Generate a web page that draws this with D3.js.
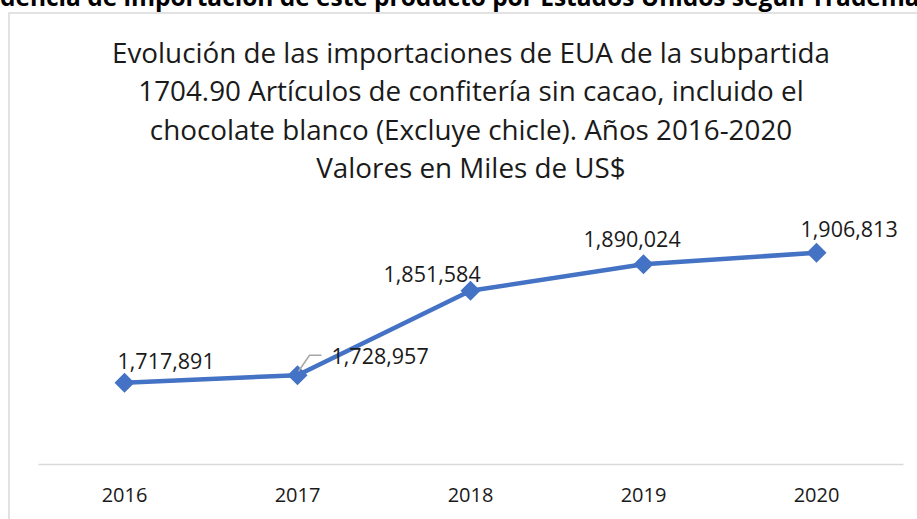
<!DOCTYPE html>
<html>
<head>
<meta charset="utf-8">
<script src="https://cdn.jsdelivr.net/npm/d3@7"></script>
<style>
  body { margin: 0; background: #fff; }
  svg { display: block; }
</style>
</head>
<body>
<div id="chart"></div>
<script>
// Data
var years  = ['2016', '2017', '2018', '2019', '2020'];
var values = [1717891, 1728957, 1851584, 1890024, 1906813];
var yTicks = [1600000, 1950000];

var pageTitle = 'Tendencia de importación de este producto por Estados Unidos según Trademap';
var titleLines = [
    'Evolución de las importaciones de EUA de la subpartida',
    '1704.90 Artículos de confitería sin cacao, incluido el',
    'chocolate blanco (Excluye chicle). Años 2016-2020',
    'Valores en Miles de US$'
];

var width  = 917;
var height = 519;

var svg = d3.select('#chart').append('svg')
    .attr('width', width)
    .attr('height', height);

// Cut off heading of the page above the chart
var head = svg.append('text')
    .attr('y', 6)
    .attr('font-family', 'Open Sans, sans-serif')
    .attr('font-weight', 'bold')
    .attr('font-size', 20)
    .attr('fill', '#000')
    .text(pageTitle);
// scale so that "dencia ... Tradem" spans the window like in the picture
var probe = svg.append('text')
    .attr('font-family', 'Open Sans, sans-serif')
    .attr('font-weight', 'bold')
    .attr('font-size', 20);
var wPre = probe.text('Ten').node().getComputedTextLength();
var wMid = probe.text('dencia de importación de este producto por Estados Unidos según Tradem').node().getComputedTextLength();
var k = 905 / wMid;
head.attr('font-size', 20 * k).attr('x', -wPre * k);
probe.remove();

// Chart frame
svg.append('rect')
    .attr('x', 9)
    .attr('y', 13)
    .attr('width', 924)
    .attr('height', 520)
    .attr('fill', '#fff')
    .attr('stroke', '#d9d9d9')
    .attr('stroke-width', 1.5);

// Chart title
var titleY = [63, 101, 140, 178];
svg.append('g')
    .selectAll('text')
    .data(titleLines)
    .enter()
    .append('text')
    .attr('x', 471)
    .attr('y', (d, i) => titleY[i])
    .attr('text-anchor', 'middle')
    .attr('font-family', 'Open Sans, sans-serif')
    .attr('font-size', 27.8)
    .attr('fill', '#1a1a1a')
    .text(d => d);

// Scales
var x = d3.scaleBand()
    .domain(years)
    .range([38, 903]);

var y = d3.scaleLinear()
    .domain(d3.extent(yTicks))
    .range([464, 223]);

var cx = d => x(d) + x.bandwidth() / 2;

// Category axis
var xAxis = svg.append('g')
    .attr('transform', 'translate(0,' + y(yTicks[0]) + ')')
    .call(d3.axisBottom(x).tickSize(0).tickPadding(24));
xAxis.select('.domain')
    .attr('stroke', '#d9d9d9')
    .attr('stroke-width', 1.5);
xAxis.selectAll('text')
    .attr('font-family', 'Open Sans, sans-serif')
    .attr('font-size', 20)
    .attr('fill', '#1a1a1a');

// Line
var line = d3.line()
    .x((d, i) => cx(years[i]))
    .y(d => y(d));

svg.append('path')
    .datum(values)
    .attr('fill', 'none')
    .attr('stroke', '#4472c4')
    .attr('stroke-width', 4.5)
    .attr('stroke-linejoin', 'round')
    .attr('d', line);

// Diamond markers
svg.append('g')
    .selectAll('path')
    .data(values)
    .enter()
    .append('path')
    .attr('transform', (d, i) => 'translate(' + cx(years[i]) + ',' + y(d) + ') rotate(45)')
    .attr('d', d3.symbol(d3.symbolSquare, 200))
    .attr('fill', '#4472c4');

// Data labels (hand-placed in the original)
var labelOffset = [[-7, -14], [34, -11], [-87, -9], [-60, -17], [-16, -16]];
var fmt = d3.format(',');

// leader line for 2017
var p17 = [cx(years[1]), y(values[1])];
svg.append('path')
    .attr('d', d3.line()([[p17[0] + 1, p17[1] - 4], [p17[0] + 12, p17[1] - 20], [p17[0] + 24, p17[1] - 20]]))
    .attr('fill', 'none')
    .attr('stroke', '#a6a6a6')
    .attr('stroke-width', 1.5);

svg.append('g')
    .selectAll('text')
    .data(values)
    .enter()
    .append('text')
    .attr('x', (d, i) => cx(years[i]) + labelOffset[i][0])
    .attr('y', (d, i) => y(d) + labelOffset[i][1])
    .attr('font-family', 'Open Sans, sans-serif')
    .attr('font-size', 21.5)
    .attr('fill', '#1a1a1a')
    .text(d => fmt(d));
</script>
</body>
</html>
